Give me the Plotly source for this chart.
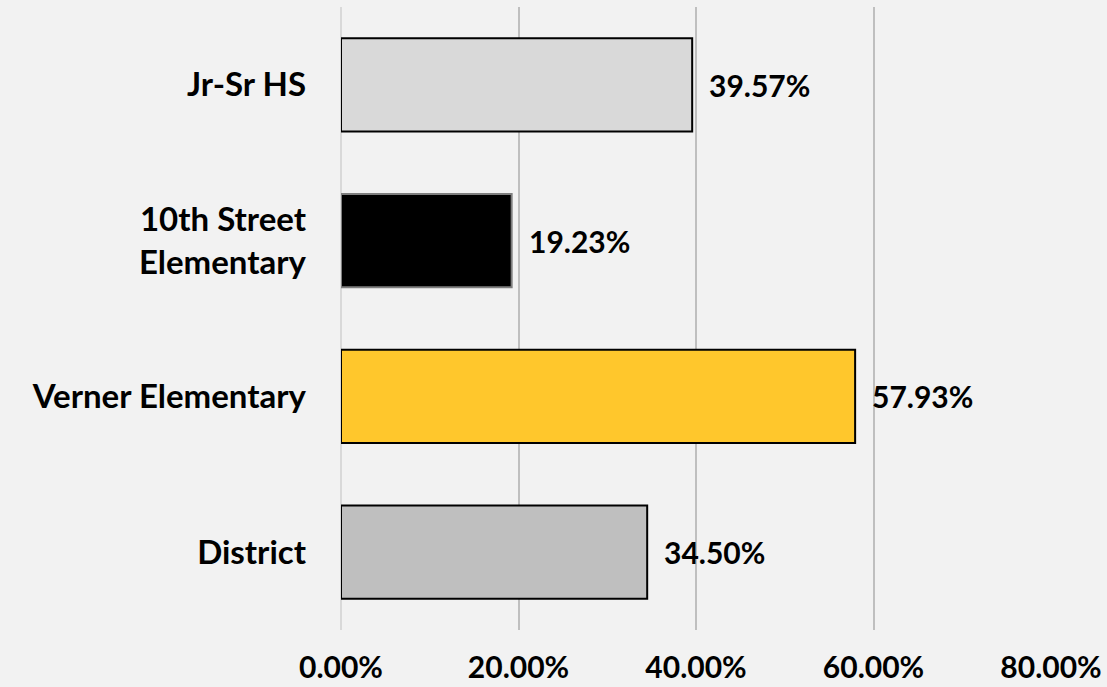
import plotly.graph_objects as go

# Data
categories = ["District", "Verner Elementary", "10th Street<br>Elementary", "Jr-Sr HS"]
values = [0.3450, 0.5793, 0.1923, 0.3957]
bar_colors = ["#bfbfbf", "#ffc72c", "#000000", "#d9d9d9"]
line_colors = ["#000000", "#000000", "#7f7f7f", "#000000"]
x_ticks = [0, 0.2, 0.4, 0.6, 0.8]
x_tick_labels = ["0.00%", "20.00%", "40.00%", "60.00%", "80.00%"]

LABEL_FONT = "Lato, Carlito, sans-serif"
NUM_FONT = "Lato, 'Gill Sans MT', sans-serif"

fig = go.Figure(
    go.Bar(
        x=values,
        y=categories,
        orientation="h",
        width=0.6,
        marker=dict(color=bar_colors, line=dict(color=line_colors, width=2)),
        hoverinfo="skip",
    )
)

# value labels to the right of each bar
for cat, val in zip(categories, values):
    fig.add_annotation(
        x=val,
        y=cat,
        text=f"{val:.2%}",
        showarrow=False,
        xanchor="left",
        xshift=15,
        font=dict(family=NUM_FONT, size=30, color="#000000", weight="bold"),
    )

fig.update_layout(
    width=1107,
    height=687,
    margin=dict(l=341, r=56, t=7, b=57),
    paper_bgcolor="#f2f2f2",
    plot_bgcolor="#f2f2f2",
    showlegend=False,
    font=dict(family=LABEL_FONT, color="#000000", weight="bold"),
    xaxis=dict(
        range=[0, 0.8],
        tickvals=x_ticks,
        ticktext=x_tick_labels,
        showgrid=True,
        gridcolor="#bfbfbf",
        gridwidth=1.5,
        zeroline=True,
        zerolinecolor="#d9d9d9",
        zerolinewidth=2,
        ticks="",
        automargin=False,
        ticklabelstandoff=17,
        tickfont=dict(family=NUM_FONT, size=30, weight="bold"),
    ),
    yaxis=dict(
        showgrid=False,
        zeroline=False,
        ticks="",
        automargin=False,
        ticklabelstandoff=34,
        tickfont=dict(family=LABEL_FONT, size=33, weight="bold"),
    ),
)

fig.write_html(
    "out.html",
    config={"displayModeBar": False},
    post_script="document.body.style.margin='0';",
)
